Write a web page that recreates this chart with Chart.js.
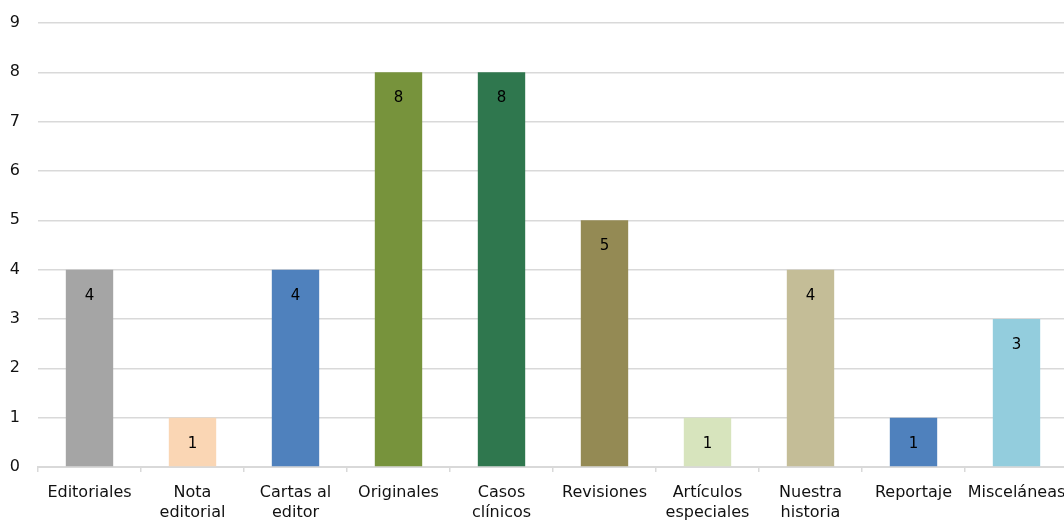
<!DOCTYPE html>
<html>
<head>
<meta charset="utf-8">
<script src="https://cdn.jsdelivr.net/npm/chart.js@4"></script>
<style>
    html, body { margin: 0; padding: 0; background: #fff; overflow: hidden; }
    #wrap { width: 1068px; height: 521px; }
</style>
</head>
<body>
<div id="wrap"><canvas id="chart"></canvas></div>
<script>
// Categories (multi-line labels as arrays)
const categories = [
    'Editoriales',
    ['Nota', 'editorial'],
    ['Cartas al', 'editor'],
    'Originales',
    ['Casos', 'clínicos'],
    'Revisiones',
    ['Artículos', 'especiales'],
    ['Nuestra', 'historia'],
    'Reportaje',
    'Misceláneas'
];
const counts = [4, 1, 4, 8, 8, 5, 1, 4, 1, 3];
const barColors = [
    '#A5A5A5', '#FAD6B4', '#4F81BD', '#77933C', '#2F774E',
    '#948A54', '#D7E4BD', '#C4BD97', '#4F81BD', '#93CDDD'
];
const yTicks = [0, 1, 2, 3, 4, 5, 6, 7, 8, 9];

const FONT = 'DejaVu Sans';

// Value labels drawn inside each bar, near its top
const valueLabels = {
    id: 'valueLabels',
    afterDatasetsDraw(chart) {
        const ctx = chart.ctx;
        const meta = chart.getDatasetMeta(0);
        ctx.save();
        ctx.font = '15px "' + FONT + '"';
        ctx.fillStyle = '#000';
        ctx.textAlign = 'center';
        ctx.textBaseline = 'middle';
        meta.data.forEach((bar, i) => {
            ctx.fillText(String(counts[i]), bar.x, bar.y + 26);
        });
        ctx.restore();
    }
};

new Chart(document.getElementById('chart'), {
    type: 'bar',
    data: {
        labels: categories,
        datasets: [{
            data: counts,
            backgroundColor: barColors,
            borderWidth: 0,
            categoryPercentage: 1,
            barPercentage: 0.46
        }]
    },
    options: {
        responsive: true,
        maintainAspectRatio: false,
        animation: false,
        layout: { padding: { top: 23, right: 0, left: 0, bottom: 0 } },
        plugins: {
            legend: { display: false },
            tooltip: { enabled: false }
        },
        scales: {
            x: {
                afterFit(scale) {
                    scale.height = 54;
                    scale.paddingLeft = 0;
                    scale.paddingRight = 0;
                },
                grid: {
                    display: true,
                    drawOnChartArea: false,
                    drawTicks: true,
                    tickLength: 5,
                    color: '#D9D9D9',
                    lineWidth: 1.5
                },
                border: { display: true, color: '#D9D9D9', width: 2 },
                ticks: {
                    color: '#111',
                    font: { family: FONT, size: 16, lineHeight: 1.25 },
                    padding: 11,
                    maxRotation: 0,
                    autoSkip: false
                }
            },
            y: {
                min: 0,
                max: 9,
                afterFit(scale) {
                    scale.width = 38;
                    scale.paddingTop = 0;
                    scale.paddingBottom = 0;
                },
                afterBuildTicks(scale) { scale.ticks = yTicks.map(v => ({ value: v })); },
                grid: {
                    color: '#D9D9D9',
                    lineWidth: 1.5,
                    drawTicks: false
                },
                border: { display: false },
                ticks: {
                    color: '#111',
                    font: { family: FONT, size: 16 },
                    padding: 18
                }
            }
        }
    },
    plugins: [valueLabels]
});
</script>
</body>
</html>
